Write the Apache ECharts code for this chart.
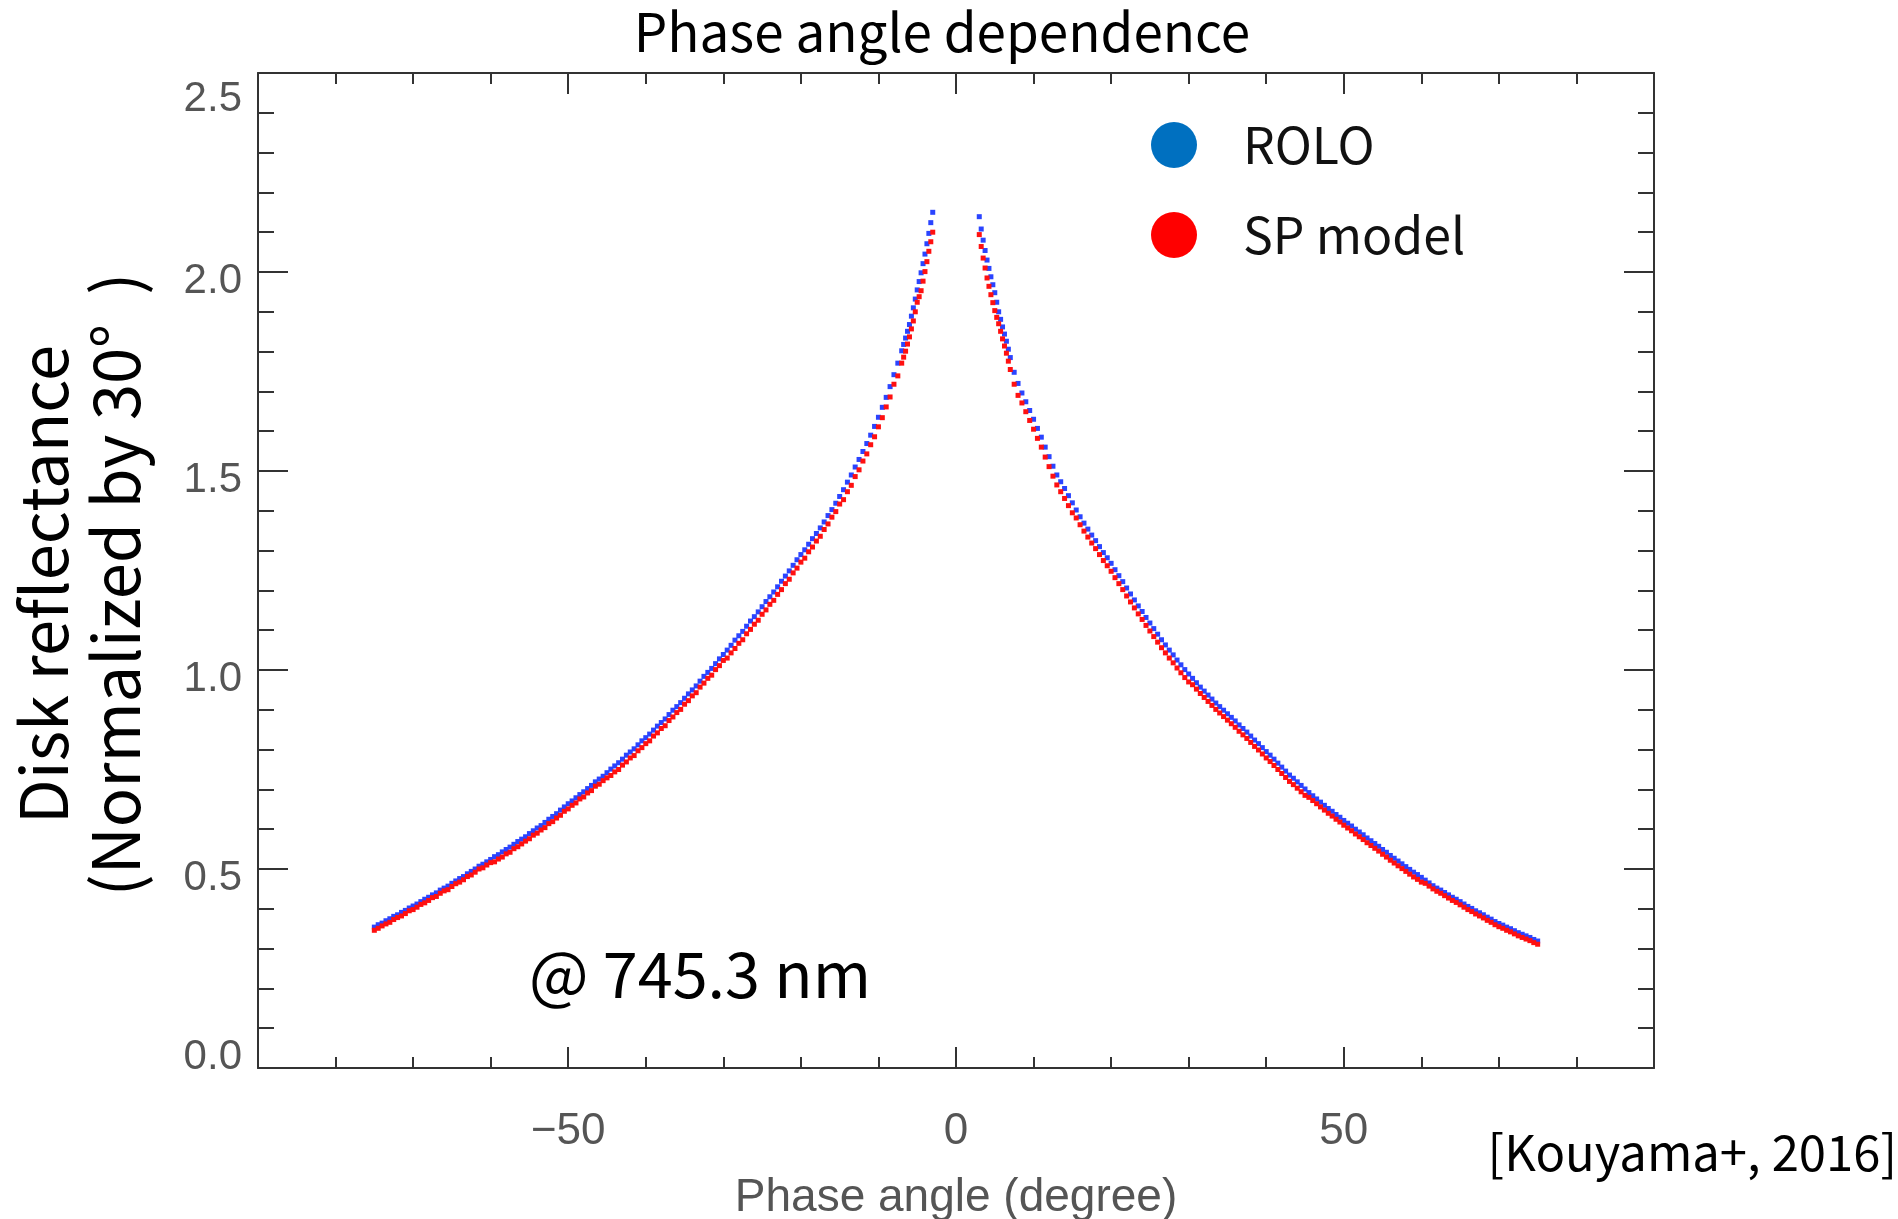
<!DOCTYPE html>
<html><head><meta charset="utf-8">
<script src="https://cdn.jsdelivr.net/npm/echarts@6/dist/echarts.min.js"></script>
<style>html,body{margin:0;padding:0;background:#fff}#c{width:1898px;height:1219px}</style>
</head><body><div id="c"></div>
<script>
// ---------- texts ----------
const titleText = 'Phase angle dependence';
const xName = 'Phase angle (degree)';
const yName = 'Disk reflectance\n(Normalized by 30°  )';
const noteText = '@ 745.3 nm';
const refText = '[Kouyama+, 2016]';
const seriesNames = ['ROLO', 'SP model'];
const xMajorTicks = [-50, 0, 50];

// ---------- data ----------
const phaseLeft = [-75,-74.5,-74,-73.5,-73,-72.5,-72,-71.5,-71,-70.5,-70,-69.5,-69,-68.5,-68,-67.5,-67,-66.5,-66,-65.5,-65,-64.5,-64,-63.5,-63,-62.5,-62,-61.5,-61,-60.5,-60,-59.5,-59,-58.5,-58,-57.5,-57,-56.5,-56,-55.5,-55,-54.5,-54,-53.5,-53,-52.5,-52,-51.5,-51,-50.5,-50,-49.5,-49,-48.5,-48,-47.5,-47,-46.5,-46,-45.5,-45,-44.5,-44,-43.5,-43,-42.5,-42,-41.5,-41,-40.5,-40,-39.5,-39,-38.5,-38,-37.5,-37,-36.5,-36,-35.5,-35,-34.5,-34,-33.5,-33,-32.5,-32,-31.5,-31,-30.5,-30,-29.5,-29,-28.5,-28,-27.5,-27,-26.5,-26,-25.5,-25,-24.5,-24,-23.5,-23,-22.5,-22,-21.5,-21,-20.5,-20,-19.5,-19,-18.5,-18,-17.5,-17,-16.5,-16,-15.5,-15,-14.5,-14,-13.5,-13,-12.5,-12,-11.5,-11,-10.5,-10,-9.5,-9,-8.5,-8,-7.5,-7,-6.75,-6.5,-6.25,-6,-5.75,-5.5,-5.25,-5,-4.75,-4.5,-4.25,-4,-3.75,-3.5,-3.25,-3];
const roloLeft = [0.354,0.360,0.364,0.370,0.375,0.381,0.385,0.391,0.396,0.402,0.407,0.412,0.418,0.424,0.429,0.435,0.440,0.447,0.452,0.457,0.464,0.470,0.476,0.481,0.488,0.494,0.500,0.507,0.512,0.518,0.524,0.531,0.536,0.543,0.549,0.555,0.562,0.569,0.575,0.581,0.589,0.596,0.603,0.609,0.617,0.625,0.632,0.639,0.648,0.656,0.664,0.671,0.679,0.687,0.694,0.702,0.710,0.719,0.726,0.733,0.742,0.751,0.759,0.767,0.776,0.786,0.794,0.802,0.812,0.822,0.830,0.839,0.849,0.859,0.868,0.877,0.888,0.899,0.908,0.918,0.929,0.940,0.950,0.960,0.972,0.984,0.994,1.004,1.016,1.028,1.039,1.050,1.062,1.075,1.086,1.097,1.110,1.123,1.134,1.146,1.159,1.172,1.184,1.196,1.209,1.223,1.236,1.249,1.263,1.277,1.290,1.302,1.316,1.330,1.343,1.357,1.372,1.388,1.403,1.419,1.436,1.453,1.472,1.490,1.510,1.529,1.549,1.569,1.590,1.612,1.635,1.660,1.685,1.712,1.742,1.771,1.802,1.818,1.834,1.851,1.868,1.889,1.910,1.932,1.955,1.976,1.998,2.021,2.045,2.071,2.097,2.124,2.150];
const spLeft = [0.346,0.351,0.357,0.362,0.366,0.373,0.378,0.382,0.388,0.395,0.398,0.404,0.411,0.415,0.421,0.428,0.431,0.439,0.445,0.448,0.456,0.463,0.467,0.473,0.481,0.485,0.492,0.500,0.503,0.510,0.516,0.518,0.525,0.530,0.538,0.542,0.551,0.556,0.563,0.570,0.576,0.585,0.590,0.598,0.604,0.614,0.619,0.628,0.635,0.645,0.651,0.660,0.666,0.676,0.681,0.691,0.697,0.708,0.713,0.722,0.729,0.735,0.744,0.750,0.761,0.769,0.779,0.785,0.797,0.805,0.815,0.822,0.834,0.842,0.853,0.860,0.873,0.882,0.893,0.901,0.914,0.923,0.935,0.943,0.957,0.967,0.979,0.987,1.001,1.011,1.024,1.030,1.043,1.054,1.067,1.076,1.091,1.102,1.115,1.125,1.140,1.151,1.165,1.175,1.190,1.202,1.217,1.228,1.244,1.256,1.271,1.281,1.297,1.309,1.324,1.336,1.353,1.367,1.384,1.398,1.417,1.428,1.448,1.464,1.486,1.503,1.525,1.543,1.566,1.586,1.611,1.634,1.661,1.686,1.718,1.739,1.771,1.786,1.801,1.819,1.837,1.857,1.877,1.900,1.924,1.938,1.953,1.977,2.001,2.026,2.052,2.076,2.100];

const phaseRight = [3,3.25,3.5,3.75,4,4.25,4.5,4.75,5,5.25,5.5,5.75,6,6.25,6.5,6.75,7,7.5,8,8.5,9,9.5,10,10.5,11,11.5,12,12.5,13,13.5,14,14.5,15,15.5,16,16.5,17,17.5,18,18.5,19,19.5,20,20.5,21,21.5,22,22.5,23,23.5,24,24.5,25,25.5,26,26.5,27,27.5,28,28.5,29,29.5,30,30.5,31,31.5,32,32.5,33,33.5,34,34.5,35,35.5,36,36.5,37,37.5,38,38.5,39,39.5,40,40.5,41,41.5,42,42.5,43,43.5,44,44.5,45,45.5,46,46.5,47,47.5,48,48.5,49,49.5,50,50.5,51,51.5,52,52.5,53,53.5,54,54.5,55,55.5,56,56.5,57,57.5,58,58.5,59,59.5,60,60.5,61,61.5,62,62.5,63,63.5,64,64.5,65,65.5,66,66.5,67,67.5,68,68.5,69,69.5,70,70.5,71,71.5,72,72.5,73,73.5,74,74.5,75];
const roloRight = [2.139,2.108,2.080,2.054,2.030,2.009,1.988,1.968,1.948,1.924,1.900,1.881,1.862,1.844,1.826,1.806,1.785,1.748,1.720,1.696,1.674,1.652,1.630,1.607,1.585,1.560,1.536,1.512,1.490,1.473,1.456,1.438,1.420,1.402,1.385,1.369,1.354,1.339,1.325,1.310,1.295,1.282,1.268,1.252,1.237,1.222,1.206,1.191,1.176,1.161,1.147,1.132,1.118,1.104,1.090,1.076,1.063,1.050,1.038,1.025,1.013,1.001,0.990,0.979,0.968,0.957,0.947,0.937,0.927,0.917,0.908,0.899,0.890,0.881,0.872,0.862,0.853,0.844,0.834,0.824,0.815,0.805,0.795,0.786,0.776,0.766,0.756,0.746,0.736,0.728,0.719,0.710,0.701,0.692,0.684,0.676,0.668,0.660,0.652,0.645,0.637,0.630,0.622,0.615,0.608,0.600,0.593,0.586,0.578,0.571,0.564,0.557,0.549,0.542,0.534,0.527,0.520,0.513,0.506,0.499,0.492,0.486,0.479,0.472,0.465,0.458,0.452,0.447,0.441,0.435,0.429,0.424,0.418,0.412,0.406,0.401,0.395,0.390,0.385,0.379,0.374,0.368,0.363,0.359,0.354,0.350,0.345,0.340,0.336,0.332,0.328,0.323,0.319];
const spRight = [2.094,2.064,2.035,2.010,1.985,1.964,1.943,1.923,1.903,1.886,1.870,1.851,1.832,1.814,1.796,1.776,1.755,1.718,1.690,1.671,1.649,1.627,1.605,1.582,1.560,1.535,1.511,1.487,1.465,1.448,1.431,1.413,1.395,1.382,1.365,1.349,1.334,1.319,1.305,1.290,1.275,1.262,1.248,1.232,1.217,1.202,1.186,1.171,1.156,1.141,1.127,1.112,1.098,1.084,1.070,1.056,1.043,1.030,1.018,1.005,0.993,0.981,0.970,0.963,0.952,0.941,0.931,0.921,0.911,0.901,0.892,0.883,0.874,0.865,0.856,0.846,0.837,0.828,0.818,0.808,0.799,0.789,0.779,0.770,0.760,0.750,0.740,0.730,0.720,0.712,0.703,0.694,0.685,0.680,0.672,0.664,0.656,0.648,0.640,0.633,0.625,0.618,0.610,0.603,0.596,0.588,0.581,0.574,0.566,0.559,0.552,0.545,0.537,0.530,0.522,0.515,0.508,0.501,0.494,0.487,0.480,0.474,0.467,0.464,0.457,0.450,0.444,0.439,0.433,0.427,0.421,0.416,0.410,0.404,0.398,0.393,0.387,0.382,0.377,0.371,0.366,0.360,0.355,0.351,0.346,0.342,0.337,0.332,0.328,0.324,0.320,0.315,0.311];

// ---------- build ----------
function pairs(xs, ys) { return xs.map((x, i) => [x, ys[i]]); }
const roloData = pairs(phaseLeft, roloLeft).concat(pairs(phaseRight, roloRight));
const spData = pairs(phaseLeft, spLeft).concat(pairs(phaseRight, spRight));

const lineSt = { color: '#333', width: 2 };
const tickFont = { fontFamily: 'Liberation Sans', fontSize: 42, color: '#555' };
const jpFont = 'Noto Sans CJK JP';

function xAxisBase(pos) {
  return { type: 'value', min: -90, max: 90, interval: 10, position: pos,
    axisLine: { show: true, onZero: false, lineStyle: lineSt },
    axisTick: { show: true, inside: true, length: 11, lineStyle: lineSt },
    splitLine: { show: false }, axisLabel: { show: false } };
}
function xAxisMajor(pos) {
  return { type: 'value', min: -90, max: 90, interval: 10, position: pos,
    axisLine: { show: false, onZero: false },
    axisTick: { show: true, inside: true, length: 21, customValues: xMajorTicks, lineStyle: lineSt },
    splitLine: { show: false }, axisLabel: { show: false } };
}
function yAxisBase(pos, labels) {
  return { type: 'value', min: 0, max: 2.5, interval: 0.5, position: pos,
    axisLine: { show: true, onZero: false, lineStyle: lineSt },
    axisTick: { show: true, inside: true, length: 30, lineStyle: lineSt },
    minorTick: { show: true, splitNumber: 5, length: 16, lineStyle: lineSt },
    splitLine: { show: false }, minorSplitLine: { show: false },
    axisLabel: labels ? {
      margin: 16,
      formatter: function (v) {
        const s = v.toFixed(1);
        if (v >= 2.5) return '{s1| }\n{a|' + s + '}';
        if (v <= 0) return '{a|' + s + '}\n{s2| }';
        return '{s3| }\n{a|' + s + '}';
      },
      rich: {
        a: Object.assign({ lineHeight: 48 }, tickFont),
        s1: { lineHeight: 52, fontSize: 10 },
        s2: { lineHeight: 22, fontSize: 10 },
        s3: { lineHeight: 18, fontSize: 10 }
      }
    } : { show: false } };
}

const xa0 = xAxisBase('bottom');
xa0.axisLabel = Object.assign({ show: true, customValues: xMajorTicks, margin: 42,
  formatter: v => (v < 0 ? '\u2212' + (-v) : String(v)) }, tickFont, { fontSize: 44 });
xa0.name = xName;
xa0.nameLocation = 'middle';
xa0.nameGap = 107;
xa0.nameTextStyle = { fontFamily: 'Liberation Sans', fontSize: 46, color: '#555' };

const ya0 = yAxisBase('left', true);
ya0.name = yName;
ya0.nameLocation = 'middle';
ya0.nameRotate = 90;
ya0.nameGap = 107;
ya0.nameTextStyle = { fontFamily: jpFont, fontSize: 65, lineHeight: 72, color: '#000', padding: [0, 28, 0, 0] };

const option = {
  backgroundColor: '#fff',
  animation: false,
  grid: { left: 258, top: 73, width: 1396, height: 995, containLabel: false, outerBoundsMode: 'none' },
  xAxis: [xa0, xAxisMajor('bottom'), xAxisBase('top'), xAxisMajor('top')],
  yAxis: [ya0, yAxisBase('right', false)],
  legend: {
    orient: 'vertical', left: 1151, top: 120, padding: 0,
    itemWidth: 46, itemHeight: 46, itemGap: 40, icon: 'circle',
    textStyle: { fontFamily: jpFont, fontSize: 50, lineHeight: 46, color: '#111', padding: [0, 0, 0, 41] },
    data: [
      { name: seriesNames[0], itemStyle: { color: '#0070C0', opacity: 1 } },
      { name: seriesNames[1], itemStyle: { color: '#FF0000', opacity: 1 } }
    ]
  },
  series: [
    { name: seriesNames[0], type: 'scatter', xAxisIndex: 0, yAxisIndex: 0, data: roloData,
      symbol: 'rect', symbolSize: 5, itemStyle: { color: '#2a44ff', opacity: 1 }, z: 2 },
    { name: seriesNames[1], type: 'scatter', xAxisIndex: 0, yAxisIndex: 0, data: spData,
      symbol: 'rect', symbolSize: 5, itemStyle: { color: '#ff1010', opacity: 1 }, z: 3 }
  ],
  graphic: [
    { type: 'text', x: 942, y: 32, style: { text: titleText, fontFamily: jpFont, fontSize: 53, fill: '#000', align: 'center', verticalAlign: 'middle' } },
    { type: 'text', x: 529, y: 974, style: { text: noteText, fontFamily: jpFont, fontSize: 63, fill: '#000', align: 'left', verticalAlign: 'middle' } },
    { type: 'text', x: 1897, y: 1152, style: { text: refText, fontFamily: jpFont, fontSize: 49, fill: '#000', align: 'right', verticalAlign: 'middle' } }
  ]
};

const chart = echarts.init(document.getElementById('c'), null, { renderer: 'canvas' });
chart.setOption(option);
</script>
</body></html>
